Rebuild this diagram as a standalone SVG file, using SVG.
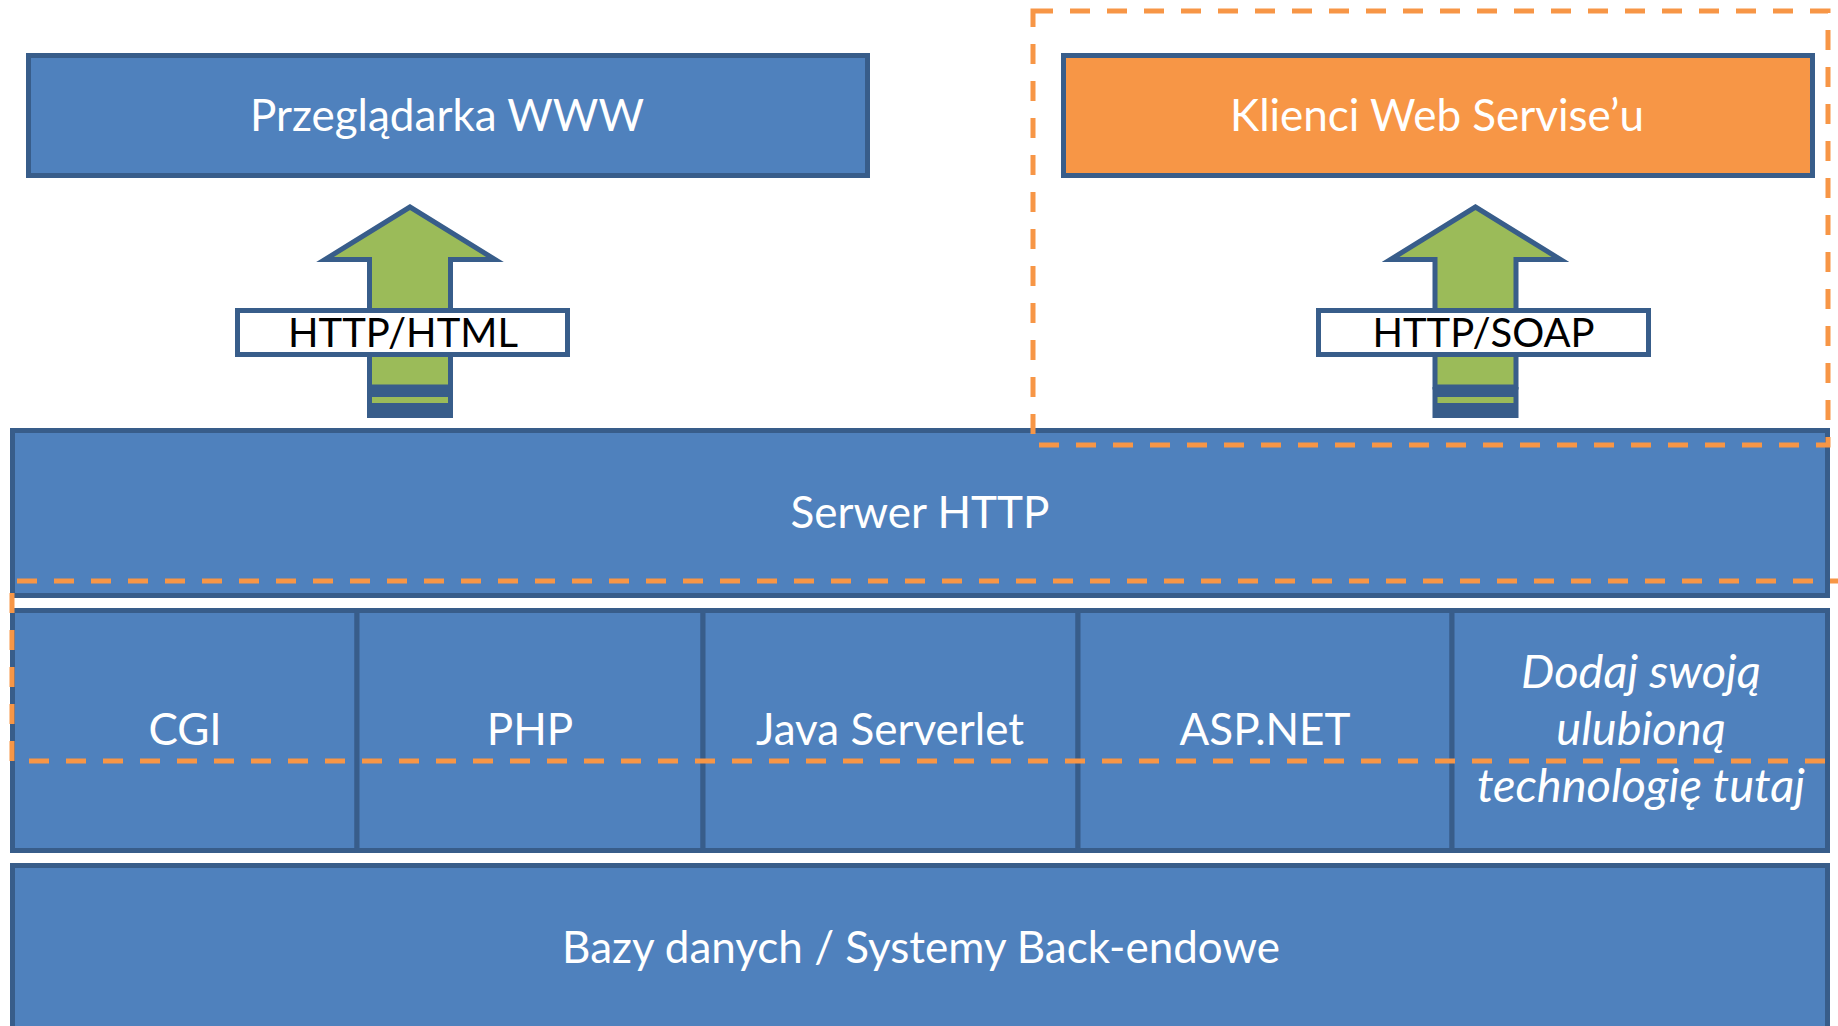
<svg xmlns="http://www.w3.org/2000/svg" width="1838" height="1026" viewBox="0 0 1838 1026">
<style>
.box{fill:#4F81BD;stroke:#385D8A;stroke-width:5}
.orange{fill:#F79646;stroke:#385D8A;stroke-width:5}
.lbl{fill:#FFFFFF;font-family:Lato,"Liberation Sans",sans-serif;font-size:44px;text-anchor:middle}
.it{font-style:italic;font-size:47px}
.arrow{fill:#9BBB59;stroke:#385D8A;stroke-width:5;stroke-linejoin:miter}
.tag{fill:#FFFFFF;stroke:#385D8A;stroke-width:5}
.tagt{fill:#000000;font-family:Lato,"Liberation Sans",sans-serif;font-size:40px;text-anchor:middle}
.dash{fill:none;stroke:#F79646;stroke-width:5;stroke-dasharray:20 17}
</style>
<rect width="1838" height="1026" fill="#FFFFFF"/>
<g id="przegladarka">
<rect class="box" x="28.5" y="55.5" width="839" height="120"/>
<text class="lbl" x="447" y="131">Przeglądarka WWW</text>
</g>
<g id="klienci">
<rect class="orange" x="1063.5" y="55.5" width="749" height="120"/>
<text class="lbl" x="1437" y="131">Klienci Web Servise’u</text>
</g>
<g id="serwer">
<rect class="box" x="12.5" y="430.5" width="1815" height="165"/>
<text class="lbl" x="920" y="528">Serwer HTTP</text>
</g>
<g id="cgi">
<rect class="box" x="12.5" y="610.5" width="344.5" height="240"/>
<text class="lbl" x="185" y="745">CGI</text>
</g>
<g id="php">
<rect class="box" x="357" y="610.5" width="346" height="240"/>
<text class="lbl" x="530" y="745">PHP</text>
</g>
<g id="java">
<rect class="box" x="703" y="610.5" width="375" height="240"/>
<text class="lbl" x="890" y="745">Java Serverlet</text>
</g>
<g id="aspnet">
<rect class="box" x="1078" y="610.5" width="374" height="240"/>
<text class="lbl" x="1265" y="745">ASP.NET</text>
</g>
<g id="wlasna">
<rect class="box" x="1452" y="610.5" width="375.5" height="240"/>
<text class="lbl it" x="1641" y="688">Dodaj swoją</text>
<text class="lbl it" x="1641" y="745">ulubioną</text>
<text class="lbl it" x="1641" y="802">technologię tutaj</text>
</g>
<g id="bazy">
<rect class="box" x="12.5" y="865.5" width="1815" height="200"/>
<text class="lbl" x="921" y="963">Bazy danych / Systemy Back-endowe</text>
</g>
<g id="connectors">
<g id="arrow-html">
<polygon class="arrow" points="410,207 325,259.5 369.5,259.5 369.5,387 450.5,387 450.5,259.5 495,259.5"/>
<rect x="367" y="387" width="86" height="31" fill="#385D8A"/>
<rect x="372" y="397" width="76" height="6" fill="#9BBB59"/>
<rect class="tag" x="237.5" y="310.5" width="330" height="44"/>
<text class="tagt" x="403" y="347">HTTP/HTML</text>
</g>
<g id="arrow-soap">
<polygon class="arrow" points="1475.5,207 1390.5,259.5 1435,259.5 1435,387 1516,387 1516,259.5 1560.5,259.5"/>
<rect x="1432.5" y="387" width="86" height="31" fill="#385D8A"/>
<rect x="1437.5" y="397" width="76" height="6" fill="#9BBB59"/>
<rect class="tag" x="1318.5" y="310.5" width="330" height="44"/>
<text class="tagt" x="1483.5" y="347">HTTP/SOAP</text>
</g>
</g>
<g id="groups">
<rect class="dash" x="1033" y="11" width="795" height="434"/>
<path class="dash" d="M1850,581 H12 V761 H1850"/>
</g>
</svg>
